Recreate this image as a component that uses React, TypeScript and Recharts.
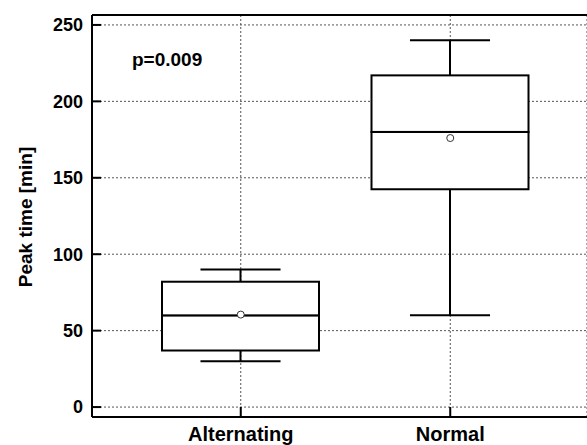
import React from "react"
import { Bar, CartesianGrid, ComposedChart, Line, ReferenceLine, XAxis, YAxis } from "recharts"

// Box plot statistics per group
const groups = ["Alternating", "Normal"]
const minValues = [30, 60]
const q1Values = [37, 142.5]
const medianValues = [60, 180]
const q3Values = [82, 217]
const maxValues = [90, 240]
const meanValues = [60.5, 176]

const yTicks = [0, 50, 100, 150, 200, 250]
const yDomain: [number, number] = [-6.5, 256.5]

const chartData = groups.map((name, i) => ({
  name,
  base: minValues[i],
  lowWhisker: q1Values[i] - minValues[i],
  boxLow: medianValues[i] - q1Values[i],
  boxHigh: q3Values[i] - medianValues[i],
  highWhisker: maxValues[i] - q3Values[i],
  mean: meanValues[i],
}))

const FONT = "'Liberation Sans', Arial, sans-serif"

const WhiskerLow = (props: any) => {
  const { x, y, width, height } = props
  const cx = x + width / 2
  const cap = width * 0.255
  return (
    <g>
      <line x1={cx} x2={cx} y1={y} y2={y + height} stroke="#000" strokeWidth={2} />
      <line x1={cx - cap} x2={cx + cap} y1={y + height} y2={y + height} stroke="#000" strokeWidth={2} />
    </g>
  )
}

const WhiskerHigh = (props: any) => {
  const { x, y, width, height } = props
  const cx = x + width / 2
  const cap = width * 0.255
  return (
    <g>
      <line x1={cx} x2={cx} y1={y} y2={y + height} stroke="#000" strokeWidth={2} />
      <line x1={cx - cap} x2={cx + cap} y1={y} y2={y} stroke="#000" strokeWidth={2} />
    </g>
  )
}

const BoxHalf = (props: any) => {
  const { x, y, width, height } = props
  return <rect x={x} y={y} width={width} height={height} fill="#fff" stroke="#000" strokeWidth={2} />
}

const yTickStyle = { fontSize: 18, fontWeight: "bold", fill: "#000", fontFamily: FONT }
const xTickStyle = { fontSize: 20, fontWeight: "bold", fill: "#000", fontFamily: FONT }

export default function App() {
  return (
    <div style={{ position: "absolute", left: 0, top: 0, width: 587, height: 445 }}>
      <ComposedChart
        width={587}
        height={445}
        data={chartData}
        margin={{ top: 15, right: 0, bottom: 0, left: 0 }}
      >
        <CartesianGrid stroke="#555" strokeDasharray="2 2" />
        <XAxis
          dataKey="name"
          height={28}
          padding={{ left: 44, right: 32 }}
          axisLine={{ stroke: "#000", strokeWidth: 2 }}
          tickLine={{ stroke: "#000", strokeWidth: 2 }}
          tickSize={-10}
          tickMargin={20}
          tick={xTickStyle}
          interval={0}
        />
        <YAxis
          width={92}
          domain={yDomain}
          ticks={yTicks}
          allowDataOverflow
          axisLine={{ stroke: "#000", strokeWidth: 2 }}
          tickLine={{ stroke: "#000", strokeWidth: 2 }}
          tickSize={-9}
          tickMargin={18}
          tick={yTickStyle}
        />
        <ReferenceLine y={yDomain[1]} stroke="#000" strokeWidth={2} />
        <Bar dataKey="base" stackId="box" fill="none" barSize={157} isAnimationActive={false} />
        <Bar dataKey="lowWhisker" stackId="box" shape={WhiskerLow} barSize={157} isAnimationActive={false} />
        <Bar dataKey="boxLow" stackId="box" shape={BoxHalf} barSize={157} isAnimationActive={false} />
        <Bar dataKey="boxHigh" stackId="box" shape={BoxHalf} barSize={157} isAnimationActive={false} />
        <Bar dataKey="highWhisker" stackId="box" shape={WhiskerHigh} barSize={157} isAnimationActive={false} />
        <Line
          dataKey="mean"
          stroke="none"
          dot={{ r: 3.5, fill: "#fff", stroke: "#333", strokeWidth: 1 }}
          activeDot={false}
          isAnimationActive={false}
        />
      </ComposedChart>
      <svg
        width={587}
        height={445}
        style={{ position: "absolute", left: 0, top: 0, pointerEvents: "none" }}
      >
        <text x={132} y={66} fontSize={19} fontWeight="bold" fontFamily={FONT} fill="#000">
          p=0.009
        </text>
        <text
          x={32}
          y={217}
          transform="rotate(-90 32 217)"
          textAnchor="middle"
          fontSize={19}
          fontWeight="bold"
          fontFamily={FONT}
          fill="#000"
        >
          Peak time [min]
        </text>
      </svg>
    </div>
  )
}
